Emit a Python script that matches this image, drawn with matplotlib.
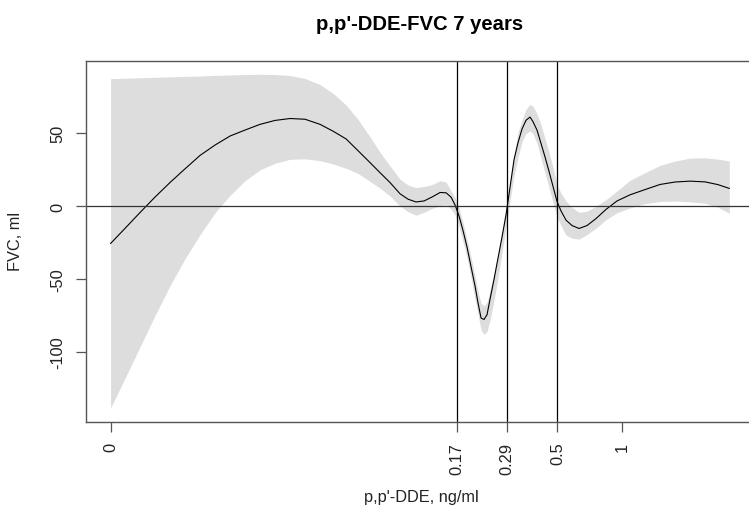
import matplotlib
matplotlib.use("Agg")
import matplotlib.pyplot as plt
from matplotlib.ticker import FixedLocator, FixedFormatter, NullLocator

plt.rcParams['font.family'] = ['Liberation Sans', 'DejaVu Sans']

# p,p'-DDE concentration (ng/ml); non-detects are drawn at the floor value
dde_zero = 0.0042
dde = [dde_zero, 0.004904, 0.005758, 0.006760, 0.007935, 0.009317, 0.01094, 0.01284,
       0.01508, 0.01770, 0.02078, 0.02440, 0.02864, 0.03363, 0.03947, 0.04537,
       0.05213, 0.05927, 0.06739, 0.07499, 0.08346, 0.09288, 0.1012, 0.1102,
       0.1201, 0.1308, 0.1425, 0.1519, 0.1603, 0.1673, 0.1746, 0.1822,
       0.1902, 0.1985, 0.2072, 0.2139, 0.2209, 0.2281, 0.2355, 0.2432,
       0.2538, 0.2649, 0.2765, 0.2886, 0.3012, 0.3144, 0.3281, 0.3424,
       0.3574, 0.3730, 0.3852, 0.4020, 0.4196, 0.4379, 0.4571, 0.4771,
       0.4979, 0.5197, 0.5482, 0.5846, 0.6300, 0.6862, 0.7556, 0.8409,
       0.9459, 1.087, 1.276, 1.498, 1.759, 2.065, 2.424, 2.786, 3.144]

# smooth fit of FVC change (ml)
fvc_fit = [-25.6, -15.2, -4.3, 6.3, 16.3, 25.7, 34.9, 42, 48.2, 52.3,
           56.2, 58.9, 60.2, 59.7, 56.2, 51.5, 46.2, 38.1, 29.9, 23,
           16.2, 8.5, 4.8, 2.9, 3.6, 6.3, 9.4, 9.2, 6.2, 0.8,
           -6.8, -16.8, -28.2, -41.6, -54.9, -66.5, -76.8, -77.8, -74.5, -63.8,
           -50.2, -35.6, -21.1, -5.8, 13.1, 32, 43.7, 53, 59, 61.2,
           58, 52.2, 43, 33.8, 23.9, 13.5, 3.2, -3.3, -9.6, -13.3,
           -15.3, -13.3, -8.5, -2.2, 3.6, 7.8, 11.4, 14.9, 16.6, 17.2,
           16.7, 14.8, 12.2]

# confidence band
fvc_upper = [87.6, 87.9, 88.2, 88.5, 88.8, 89.1, 89.4, 89.8, 90.1, 90.4,
             90.6, 90.4, 89.7, 87.7, 83.5, 77.5, 69.5, 59.5, 47.5, 37,
             27.6, 18.5, 14.5, 12.8, 13.5, 14.8, 17.5, 16.5, 10.5, 6,
             -1.5, -11.5, -23, -35, -48, -59, -66.5, -68.5, -66, -57.5,
             -46.2, -32.3, -17.4, -2.6, 15.9, 35.2, 50.9, 59.2, 66.5, 70,
             68.5, 63.5, 55.7, 46.5, 37, 26.5, 15.1, 8.8, 3.5, -0.9,
             -4.2, -3.5, 0, 4.5, 10.5, 17.8, 23, 28, 31, 33,
             33.2, 32.3, 31]
fvc_lower = [-138.5, -118, -96.5, -75, -54.5, -36, -19.5, -4.5, 7.5, 17.5,
             25, 29.5, 32.2, 32.5, 31.3, 29, 26, 22.5, 17, 12.4,
             7, 0, -3.8, -6.2, -4.2, -1.5, 0.3, 1, -2, -6,
             -14, -24.5, -35.5, -49.5, -64.1, -74.5, -85, -88, -86, -78.5,
             -64.5, -49.2, -32, -13.9, 3.6, 21, 33.6, 44.5, 50, 51.6,
             49.8, 43, 32.8, 22.7, 12.6, 2.5, -7.4, -13.5, -19.8, -22,
             -22.6, -19.5, -15, -9.3, -4.5, -1.2, 1.7, 3.2, 3.5, 3,
             2, -0.8, -4.9]

# cut points drawn as vertical reference lines
cut_points = [0.17, 0.29, 0.5]
x_ticks = [dde_zero, 0.17, 0.29, 0.5, 1]
x_tick_labels = ['0', '0.17', '0.29', '0.5', '1']
y_ticks = [-100, -50, 0, 50]

W, H = 749, 506
fig = plt.figure(figsize=(W / 100, H / 100), dpi=100)
left, right, top, bottom = 85.7, 754, 62, 423
ax = fig.add_axes([left / W, 1 - bottom / H, (right - left) / W, (bottom - top) / H])

ax.fill_between(dde, fvc_lower, fvc_upper, color='#dddddd', lw=0)
ax.plot(dde, fvc_fit, color='black', lw=0.8)
ax.axhline(0, color='#333333', lw=0.9)
for c in cut_points:
    ax.axvline(c, color='black', lw=0.9)

ax.set_xscale('log')
ax.set_xlim(0.003218, 4.094)
ax.set_ylim(-148.2, 99.7)

ax.xaxis.set_major_locator(FixedLocator(x_ticks))
ax.xaxis.set_major_formatter(FixedFormatter(x_tick_labels))
ax.xaxis.set_minor_locator(NullLocator())
ax.set_yticks(y_ticks)
ax.set_yticklabels([str(v) for v in y_ticks])

for s in ax.spines.values():
    s.set_color('#555555')
    s.set_linewidth(1.0)

ax.tick_params(axis='both', direction='out', length=7, width=0.9,
               color='#555555', labelcolor='#222222', labelsize=11.8)
ax.tick_params(axis='x', labelrotation=90, pad=7.2)
ax.tick_params(axis='y', labelrotation=90, pad=7.8)
for lab in ax.get_yticklabels():
    lab.set_va('center')

cx = (left + right) / 2 / W
fig.text(cx, 1 - 29.5 / H, "p,p'-DDE-FVC 7 years", ha='center', va='baseline',
         fontsize=14.6, fontweight='bold', color='black')
fig.text(421 / W, 1 - 501.7 / H, "p,p'-DDE, ng/ml", ha='center', va='baseline',
         fontsize=11.8, color='#222222')
fig.text(16 / W, 1 - 241 / H, "FVC, ml", ha='center', va='center', rotation=90,
         fontsize=11.8, color='#222222')

fig.savefig('out.png', dpi=100)
